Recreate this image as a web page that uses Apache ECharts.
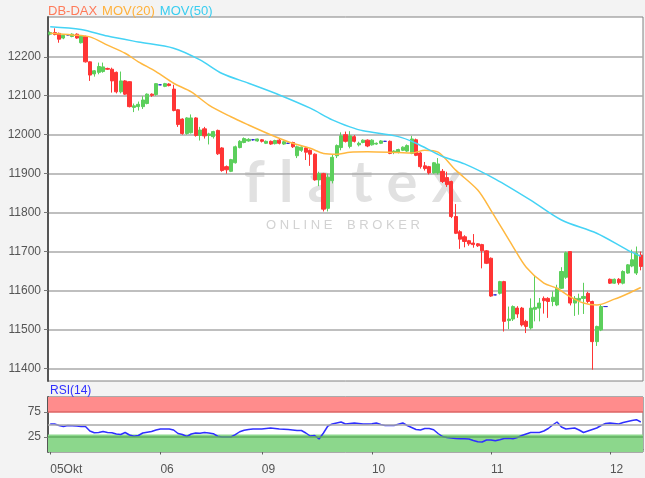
<!DOCTYPE html>
<html><head><meta charset="utf-8">
<script src="https://cdn.jsdelivr.net/npm/echarts@6/dist/echarts.min.js"></script>
<style>html,body{margin:0;padding:0;background:#f3f3f3;}#c{width:645px;height:478px;}</style>
</head><body><div id="c"></div>
<script>
const dayLabels = ['05Okt','06','09','10','11','12'];
const candlesPerDay = [25,23,25,27,27,8];
// [open, close, low, high]
const candles = [
[12258,12262,12255,12265],[12262,12257,12255,12273],[12260,12245,12236,12262],[12248,12255,12245,12258],
[12256,12256,12255,12257],[12252,12258,12250,12260],[12258,12248,12246,12260],[12236,12253,12234,12255],
[12252,12187,12185,12254],[12187,12153,12138,12188],[12156,12164,12149,12166],[12160,12175,12155,12185],
[12162,12174,12159,12185],[12170,12168,12166,12172],[12168,12138,12108,12172],[12160,12110,12106,12162],
[12110,12138,12106,12162],[12138,12104,12102,12140],[12136,12072,12070,12137],[12070,12074,12058,12080],
[12072,12078,12062,12085],[12072,12089,12066,12099],[12080,12104,12078,12106],[12104,12101,12097,12106],
[12103,12131,12100,12132],[12128,12128,12127,12129],[12124,12131,12122,12133],[12130,12126,12124,12132],
[12117,12062,12060,12128],[12064,12026,12020,12066],[12040,12003,12000,12042],[12003,12043,12000,12045],
[12005,12043,12003,12052],[12043,11998,11995,12045],[11998,12012,11985,12020],[12015,11997,11990,12020],
[11998,12002,11975,12005],[11995,12008,11990,12010],[12011,11951,11948,12013],[11966,11908,11905,11968],
[11918,11910,11900,11921],[11906,11936,11904,11938],[11928,11969,11926,11972],[11967,11983,11965,11986],
[11980,11990,11978,11993],[11984,11988,11982,11991],[11987,11987,11985,11989],[11984,11989,11982,11990],
[11987,11983,11980,11989],
[11978,11983,11976,11985],[11983,11976,11974,11985],[11977,11985,11975,11987],[11986,11978,11975,11990],
[11976,11982,11974,11984],[11978,11978,11977,11979],[11980,11969,11966,11982],[11946,11969,11940,11972],
[11960,11968,11956,11970],[11966,11955,11935,11968],[11960,11950,11920,11962],[11950,11884,11882,11952],
[11884,11900,11868,11905],[11900,11809,11803,11902],[11811,11891,11803,11900],[11882,11942,11875,11950],
[11946,11972,11940,11975],[11967,11997,11960,12006],[12000,11983,11980,12008],[11970,11997,11965,12009],
[11995,11983,11980,11999],[11974,11978,11970,11982],[11980,11986,11978,11988],[11986,11971,11968,11988],
[11974,11986,11972,11988],[11976,11978,11974,11980],[11978,11984,11976,11986],[11983,11983,11982,11984],
[11983,11952,11950,11985],[11955,11958,11950,11960],[11955,11962,11952,11964],[11960,11968,11958,11970],
[11958,11972,11956,11975],[11952,11989,11950,11997],[11987,11947,11945,11990],[11953,11918,11913,11955],
[11920,11913,11908,11930],[11918,11902,11898,11920],[11902,11928,11900,11930],[11902,11925,11898,11940],
[11906,11880,11876,11912],[11890,11872,11866,11905],[11880,11790,11786,11882],[11790,11747,11745,11822],
[11751,11732,11707,11755],[11738,11726,11711,11742],[11728,11720,11715,11730],[11722,11718,11710,11745],
[11720,11715,11712,11722],[11718,11702,11657,11720],[11702,11670,11668,11704],[11683,11586,11584,11685],
[11589,11589,11588,11590],[11593,11623,11590,11625],[11623,11521,11495,11625],
[11523,11527,11501,11559],[11527,11559,11522,11562],[11555,11540,11530,11560],[11555,11512,11508,11558],
[11521,11508,11491,11525],[11504,11555,11500,11580],[11552,11557,11521,11640],[11555,11568,11521,11581],
[11580,11574,11541,11585],[11580,11572,11530,11583],[11572,11583,11560,11598],[11563,11606,11560,11615],
[11606,11649,11604,11660],[11634,11697,11630,11700],[11700,11568,11562,11700],[11568,11580,11535,11586],
[11575,11580,11538,11592],[11580,11585,11540,11620],[11593,11572,11568,11597],[11572,11469,11397,11574],
[11469,11508,11458,11510],[11499,11559,11496,11565],[11559,11559,11558,11560],
[11629,11619,11617,11631],[11619,11629,11617,11631],[11629,11620,11615,11632],[11619,11649,11616,11652],
[11645,11666,11643,11668],[11663,11679,11660,11705],[11645,11696,11640,11713],[11691,11662,11652,11700]
];
// [candle index, value]
const ma20Points = [[0,12260],[5,12256],[9,12251],[13,12230],[17,12209],[20,12187],[24,12162],[28,12132],
[32,12110],[36,12076],[41,12046],[45,12025],[50,12000],[54,11982],[59,11965],[62,11952],[65,11950],[68,11955],
[72,11956],[79,11954],[82,11953],[85,11960],[88,11955],[92,11909],[97,11858],[100,11806],[105,11713],[108,11660],
[112,11619],[115,11606],[118,11584],[121,11568],[124,11563],[128,11578],[131,11592],[134,11608]];
const ma50Points = [[0,12277],[7,12270],[13,12253],[20,12238],[28,12222],[34,12192],[39,12157],[45,12132],
[52,12102],[59,12068],[64,12038],[68,12020],[71,12010],[79,11995],[83,11978],[89,11944],[94,11925],[101,11886],
[109,11832],[116,11781],[124,11747],[131,11704],[134,11688]];
const rsiValues = [51,51,48,46,48,47.6,47,46,46,37,33.5,34,36,34,33.5,31,30,34,29,26.5,28,33,34.5,36,39,41,41,41,39,32,
30,26,31,33,32.5,34,33,31.6,26.5,25,25,25,29.6,35.5,38.5,40,41,41,41,42,43,42,41,40.5,40,39,38,38,33,27,
28,21,33,47,51,53,55,51,52,53,52,51,51,51.5,53,50,48,48,48,50.5,53,48,44,40,39,42,42,39.6,32,26,
24,23,22,21.6,21.6,21,18,15.5,15,19,19,17.5,19.6,22,22.5,21.6,24,28,31,34,34,34,37,42,49,55,45,41,
42,43,39,34,37,40,43,48,52,53,52,51,54,56,58,59.6,55];
const priceTicks = [11400,11500,11600,11700,11800,11900,12000,12100,12200];
const rsiTicks = [25,75];

const categories = [];
const dayStart = new Set();
dayLabels.forEach((d, di) => {
  dayStart.add(categories.length);
  for (let k = 0; k < candlesPerDay[di]; k++) categories.push(d + ' ' + k);
});

const FONT = 'Liberation Sans, Arial, sans-serif';
const rs = (c) => ({color:c, fontSize:13, fontFamily:FONT, fontWeight:'normal'});
const chart = echarts.init(document.getElementById('c'), null, {renderer:'canvas'});
chart.setOption({
  animation:false,
  backgroundColor:'#f3f3f3',
  textStyle:{fontFamily:FONT},
  title:[
    {left:48, top:2, padding:0, text:'{a|DB-DAX} {b|MOV(20)} {c|MOV(50)}',
     textStyle:{fontFamily:FONT, fontWeight:'normal', rich:{a:rs('#ff7a59'), b:rs('#ffb13b'), c:rs('#38cdf0')}}},
    {left:50, top:385, padding:0, text:'RSI(14)', textStyle:{color:'#2f2fff', fontSize:12, fontWeight:'normal', fontFamily:FONT}}
  ],
  graphic:[
    {type:'text', left:244, top:154, z:-1, silent:true, style:{text:'f l a t e x', font:'bold 58px Lato', fill:'#e1e1e1'}},
    {type:'text', left:266, top:219, z:-1, silent:true, style:{text:'O N L I N E    B R O K E R', font:'13px Liberation Sans', fill:'#d2d2d2'}}
  ],
  grid:[
    {left:48, top:17, width:595, height:364, show:true, backgroundColor:'#ffffff', borderColor:'#808080', borderWidth:1, z:-2},
    {left:48, top:397, width:595, height:55, show:true, backgroundColor:'#ffffff', borderColor:'#606060', borderWidth:1, z:-2}
  ],
  xAxis:[
    {type:'category', gridIndex:0, data:categories, boundaryGap:true, axisLine:{show:false}, axisTick:{show:false}, axisLabel:{show:false}, splitLine:{show:false}},
    {type:'category', gridIndex:1, data:categories, boundaryGap:true,
     axisLine:{show:true, lineStyle:{color:'#606060'}},
     axisTick:{show:true, alignWithLabel:true, interval:(i)=>dayStart.has(i), length:5, lineStyle:{color:'#606060'}},
     axisLabel:{interval:(i)=>dayStart.has(i), formatter:(v)=>v.split(' ')[0], align:'left', color:'#555', fontSize:12, margin:12, fontFamily:FONT}}
  ],
  yAxis:[
    {type:'value', gridIndex:0, min:11368, max:12302, scale:true,
     axisLine:{show:true, lineStyle:{color:'#555', width:2}},
     axisTick:{show:true, customValues:priceTicks, length:4, lineStyle:{color:'#777'}},
     axisLabel:{customValues:priceTicks, formatter:(v)=>String(v), color:'#555', fontSize:12, margin:7, fontFamily:FONT},
     splitLine:{show:true, lineStyle:{color:'#aaaaaa', width:1.5}}},
    {type:'value', gridIndex:1, min:-5, max:105,
     axisLine:{show:true, lineStyle:{color:'#555', width:2}},
     axisTick:{show:true, customValues:rsiTicks, length:4, lineStyle:{color:'#777'}},
     axisLabel:{customValues:rsiTicks, formatter:(v)=>String(v), color:'#555', fontSize:12, margin:7, fontFamily:FONT},
     splitLine:{show:false}}
  ],
  series:[
    {type:'candlestick', xAxisIndex:0, yAxisIndex:0, data:candles, barWidth:'82%', z:3,
     itemStyle:{color:'#5ccf5c', color0:'#ff3535', borderColor:'#5ccf5c', borderColor0:'#ff3535', borderColorDoji:'#2f2fd0', borderWidth:1}},
    {type:'line', xAxisIndex:0, yAxisIndex:0, data:ma20Points, smooth:0.3, showSymbol:false, z:4,
     lineStyle:{color:'#ffb840', width:1.5}},
    {type:'line', xAxisIndex:0, yAxisIndex:0, data:ma50Points, smooth:0.3, showSymbol:false, z:4,
     lineStyle:{color:'#45d3f5', width:1.5}},
    {type:'line', xAxisIndex:1, yAxisIndex:1, data:rsiValues, showSymbol:false, z:4,
     lineStyle:{color:'#2f2fff', width:1.5},
     markArea:{silent:true, data:[
       [{yAxis:75, itemStyle:{color:'#ff8c8c', opacity:1}},{yAxis:105}],
       [{yAxis:-5, itemStyle:{color:'#8cd78c', opacity:1}},{yAxis:30}]
     ]},
     markLine:{silent:true, symbol:'none', label:{show:false}, data:[
       {yAxis:75, lineStyle:{color:'#dd6464', width:1.5, type:'solid'}},
       {yAxis:50, lineStyle:{color:'#aaaaaa', width:1.5, type:'solid'}},
       {yAxis:25, lineStyle:{color:'#5fae5f', width:1.5, type:'solid'}}
     ]}}
  ]
});
</script></body></html>
